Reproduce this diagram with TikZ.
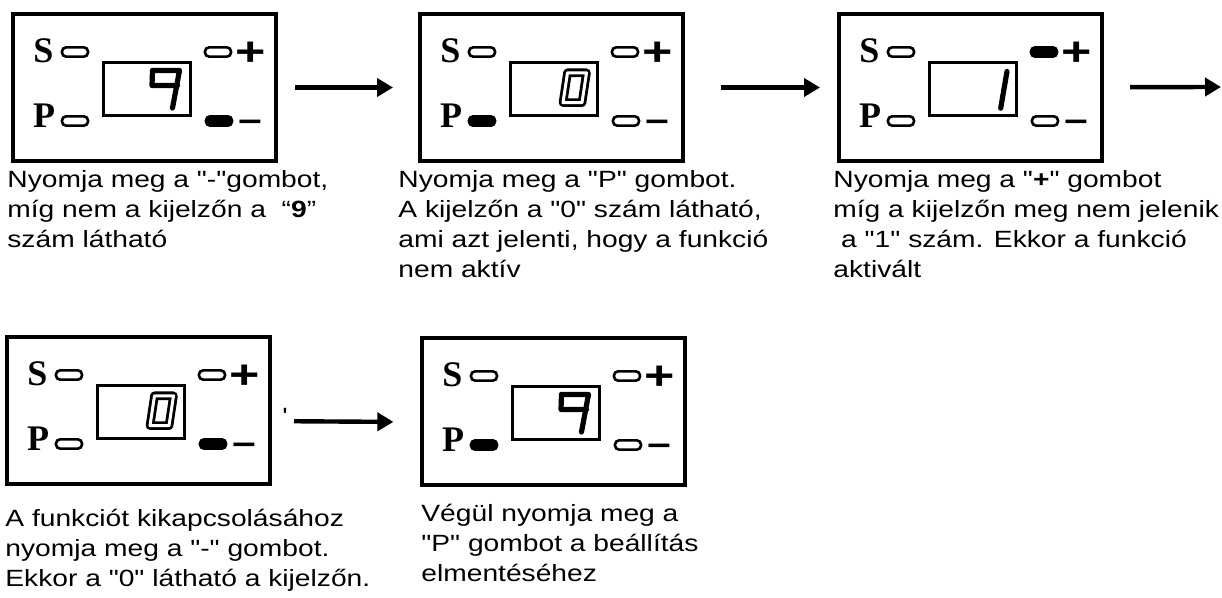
\documentclass[tikz,border=0pt]{standalone}
\usepackage{fontspec}
\usetikzlibrary{arrows.meta}
\newfontfamily\txtfont[FakeStretch=1.2]{Liberation Sans}
\newfontfamily\keyfont{Liberation Serif}
\newfontfamily\signfont[FakeStretch=1.3]{Liberation Sans}

\begin{document}
\begin{tikzpicture}[x=0.5pt,y=-0.5pt,
  panel/.style={draw,line width=2pt,minimum width=131.5pt,minimum height=73.5pt,
                inner sep=0pt,outer sep=0pt,anchor=north west},
  btn/.style={draw,line width=1.3pt,rounded corners=2pt,minimum width=13pt,
              minimum height=4.6pt,inner sep=0pt},
  lcd/.style={draw,line width=1.3pt,minimum width=43.5pt,minimum height=26.5pt,
              inner sep=0pt},
  key/.style={anchor=base,inner sep=0pt,font=\keyfont\bfseries\fontsize{18pt}{18pt}\selectfont},
  sign/.style={anchor=base,inner sep=0pt,font=\signfont\bfseries\fontsize{20pt}{20pt}\selectfont},
  signm/.style={sign,font=\signfont\bfseries\fontsize{16pt}{16pt}\selectfont},
  txt/.style={anchor=base west,inner sep=0pt,font=\txtfont\fontsize{11.75pt}{15pt}\selectfont},
  seg/.style={line width=2.6pt,line join=round,line cap=round},
  nine/.pic={\draw[seg] (5.5,-18.5) -- (32.5,-18.5) -- (25.5,19);
             \draw[seg] (5.5,-18.5) -- (5,-3.5) -- (30.5,-3.5);},
  zero/.pic={\draw[line width=1.4pt,double,double distance=1.5pt,line join=round]
             (13.5,-16.2) -- (32.5,-16.2) -- (28,13.7) -- (9,13.7) -- cycle;},
  one/.pic={\draw[seg] (34,-17.5) -- (27.7,19.2);},
  ar/.style={-{Triangle[length=8pt,width=9pt]},line width=2.2pt}]
\fill[white] (0,0) rectangle (1222,598);
\useasboundingbox (0,0) rectangle (1222,598);
% panels: name / corner / fill of S, P, +, - buttons
\foreach \n/\x/\y/\fs/\fp/\fa/\fm in {p1/13/14/white/white/white/black,
    p2/420/14/white/black/white/white, p3/839/14/white/white/black/white,
    p4/7/337/white/white/white/black, p5/422/338/white/black/white/white}{
  \node[panel] (\n) at (\x,\y) {};
  \node[key] (\n-s) at ([shift={(30.5,49)}]\n.north west) {S};
  \node[btn,fill=\fs] (\n-sb) at ([shift={(62,38)}]\n.north west) {};
  \node[key] (\n-p) at ([shift={(31,114)}]\n.north west) {P};
  \node[btn,fill=\fp] (\n-pb) at ([shift={(62,107)}]\n.north west) {};
  \node[btn,fill=\fa] (\n-ab) at ([shift={(205,38)}]\n.north west) {};
  \node[sign] (\n-a) at ([shift={(238,52)}]\n.north west) {+};
  \node[btn,fill=\fm] (\n-mb) at ([shift={(206,107)}]\n.north west) {};
  \node[signm] (\n-m) at ([shift={(237,118.5)}]\n.north west) {−};
  \node[lcd] (\n-lcd) at ([shift={(134,75)}]\n.north west) {};
}
\pic at (p1-lcd) {nine};
\pic at (p2-lcd) {zero};
\pic at (p3-lcd) {one};
\pic at (p4-lcd) {zero};
\pic at (p5-lcd) {nine};

\node[txt] (t1) at (7,188) {\begin{tabular}[t]{@{}l@{}}Nyomja meg a "-"gombot,\\
  míg nem a kijelzőn a~ “\textbf{9}”\\szám látható\end{tabular}};
\node[txt] (t2) at (398,188) {\begin{tabular}[t]{@{}l@{}}Nyomja meg a "P" gombot.\\
  A kijelzőn a "0" szám látható,\\ami azt jelenti, hogy a funkció\\nem aktív\end{tabular}};
\node[txt] (t3) at (833,188) {\begin{tabular}[t]{@{}l@{}}Nyomja meg a "\textbf{+}" gombot\\
  míg a kijelzőn meg nem jelenik\\\ a "1" szám. Ekkor a funkció\\aktivált\end{tabular}};
\node[txt] (t4) at (5,527) {\begin{tabular}[t]{@{}l@{}}A funkciót kikapcsolásához\\
  nyomja meg a "-" gombot.\\Ekkor a "0" látható a kijelzőn.\end{tabular}};
\node[txt] (t5) at (421,522) {\begin{tabular}[t]{@{}l@{}}Végül nyomja meg a\\
  "P" gombot a beállítás\\elmentéséhez\end{tabular}};
\node[txt,anchor=center] (tick) at (285,416) {'};

\coordinate (end) at (1221,87);
\draw[ar,shorten <=9.5pt,shorten >=13.5pt] (p1) -- (p2);
\draw[ar,shorten <=19pt,shorten >=9.5pt] (p2) -- (p3);
\draw[ar,shorten <=14pt] (p3) -- (end);
\draw[ar,shorten <=12pt,shorten >=14.3pt] ([yshift=-5.3pt]p4.east) -- ([yshift=-5.3pt]p5.west);
\end{tikzpicture}
\end{document}
